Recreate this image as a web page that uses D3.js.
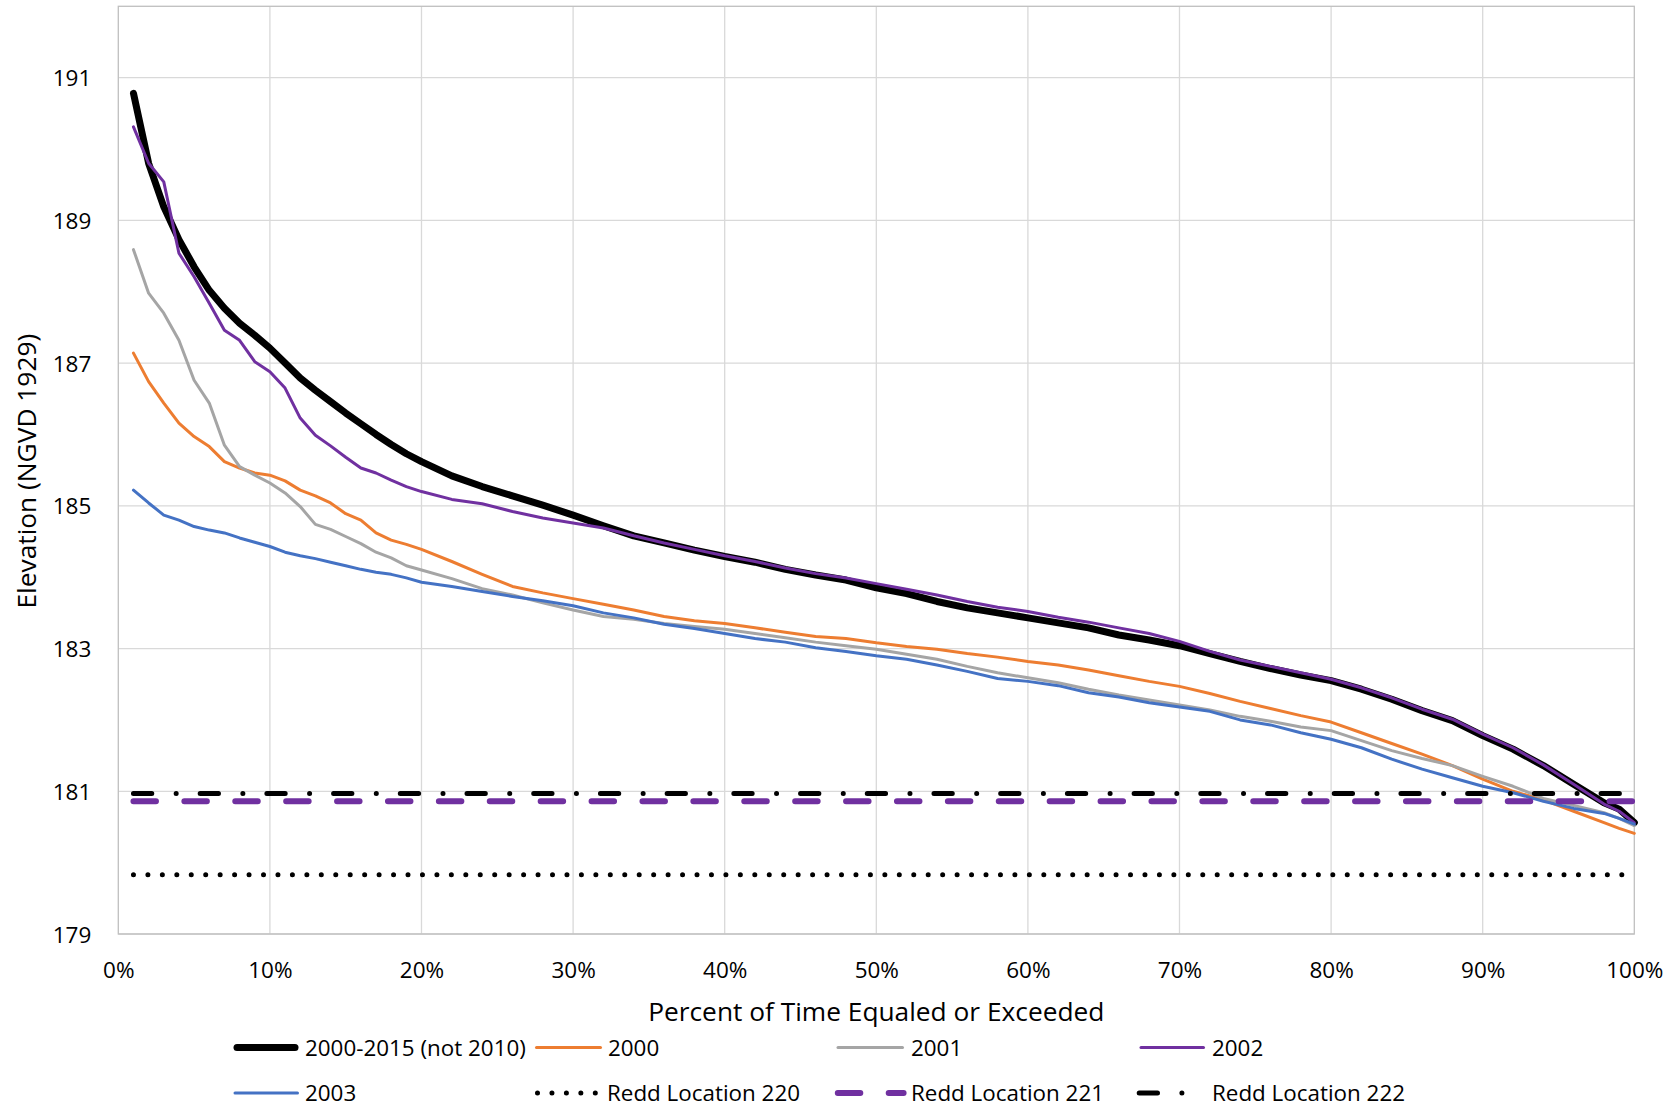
<!DOCTYPE html>
<html>
<head>
<meta charset="utf-8">
<script src="https://cdn.jsdelivr.net/npm/d3@7"></script>
<style>
  html, body { margin: 0; padding: 0; background: #fff; }
  svg { display: block; }
</style>
</head>
<body>
<svg id="chart" width="1680" height="1108"></svg>
<script>
// ---------------- DATA ----------------
const pct = [1,2,3,4,5,6,7,8,9,10,11,12,13,14,15,16,17,18,19,20,
  22,24,26,28,30,32,34,36,38,40,42,44,46,48,50,52,54,56,58,60,
  62,64,66,68,70,72,74,76,78,80,82,84,86,88,90,92,94,96,98,99,100];

const allYears = [190.78,189.80,189.19,188.73,188.35,188.02,187.77,187.56,187.39,187.21,
  187.00,186.79,186.62,186.46,186.30,186.15,186.00,185.86,185.73,185.62,
  185.42,185.27,185.14,185.01,184.87,184.72,184.58,184.48,184.38,184.29,
  184.21,184.11,184.03,183.96,183.85,183.77,183.66,183.57,183.50,183.43,
  183.36,183.29,183.19,183.12,183.04,182.93,182.82,182.72,182.63,182.55,
  182.43,182.29,182.13,181.99,181.78,181.59,181.36,181.10,180.84,180.75,180.56];

const y2000 = [187.14,186.74,186.44,186.16,185.97,185.83,185.62,185.53,185.46,185.43,
  185.35,185.22,185.14,185.04,184.89,184.80,184.62,184.52,184.46,184.39,
  184.22,184.04,183.87,183.78,183.70,183.62,183.54,183.45,183.39,183.35,
  183.29,183.23,183.17,183.14,183.08,183.03,182.99,182.93,182.88,182.82,
  182.77,182.70,182.62,182.54,182.47,182.37,182.26,182.16,182.06,181.97,
  181.82,181.67,181.52,181.36,181.17,181.00,180.88,180.72,180.56,180.48,180.41];

const y2001 = [188.59,187.98,187.70,187.32,186.76,186.44,185.85,185.55,185.43,185.32,
  185.18,184.99,184.74,184.67,184.57,184.47,184.35,184.27,184.16,184.10,
  183.98,183.84,183.75,183.64,183.54,183.45,183.41,183.35,183.31,183.27,
  183.21,183.15,183.09,183.04,182.99,182.92,182.85,182.75,182.66,182.59,
  182.52,182.43,182.35,182.28,182.21,182.14,182.05,181.98,181.90,181.85,
  181.71,181.57,181.46,181.36,181.21,181.07,180.90,180.80,180.70,180.62,180.52];

const y2002 = [190.31,189.80,189.54,188.54,188.21,187.84,187.46,187.32,187.02,186.88,
  186.65,186.23,185.99,185.84,185.68,185.53,185.46,185.36,185.27,185.20,
  185.09,185.03,184.92,184.83,184.76,184.69,184.58,184.48,184.39,184.30,
  184.22,184.13,184.05,183.99,183.91,183.83,183.75,183.66,183.58,183.52,
  183.44,183.37,183.29,183.21,183.10,182.96,182.84,182.75,182.66,182.57,
  182.45,182.31,182.15,182.01,181.80,181.61,181.37,181.10,180.82,180.72,180.56];

const y2003 = [185.22,185.04,184.87,184.80,184.71,184.66,184.62,184.55,184.49,184.43,
  184.35,184.30,184.26,184.21,184.16,184.11,184.07,184.04,183.99,183.93,
  183.87,183.80,183.73,183.67,183.60,183.50,183.43,183.34,183.28,183.21,
  183.14,183.09,183.01,182.96,182.90,182.85,182.77,182.68,182.58,182.54,
  182.48,182.38,182.32,182.24,182.18,182.12,182.00,181.93,181.82,181.73,
  181.61,181.45,181.31,181.19,181.07,180.98,180.86,180.76,180.69,180.62,180.54];

const reddPct = [1, 100];
const redd220 = [179.83, 179.83];
const redd221 = [180.86, 180.86];
const redd222 = [180.97, 180.97];

const xTicks = [0,10,20,30,40,50,60,70,80,90,100];
const yTicks = [179,181,183,185,187,189,191];
const seriesNames = ["2000-2015 (not 2010)","2000","2001","2002","2003",
  "Redd Location 220","Redd Location 221","Redd Location 222"];
const xTitle = "Percent of Time Equaled or Exceeded";
const yTitle = "Elevation (NGVD 1929)";

// ---------------- STYLES ----------------
const styles = [
  {color:"#000000", width:7, dash:null},
  {color:"#ED7D31", width:3, dash:null},
  {color:"#A5A5A5", width:3, dash:null},
  {color:"#7030A0", width:3, dash:null},
  {color:"#4472C4", width:3, dash:null},
  {color:"#000000", width:5, dash:"0,14.45"},
  {color:"#7030A0", width:6, dash:"22.5,28.4"},
  {color:"#000000", width:5, dash:"18.3,24.4,0.01,24"}
];

// ---------------- LAYOUT ----------------
const svg = d3.select("#chart");
const plot = {left:118.3, right:1634.3, top:6.3, bottom:934};

const x = d3.scaleLinear().domain([0,100]).range([plot.left, plot.right]);
const y = d3.scaleLinear().domain([179,192]).range([plot.bottom, plot.top]);

const font = "'Open Sans', 'DejaVu Sans', sans-serif";

// Gridlines
const grid = svg.append("g");
grid.selectAll("line.h").data(yTicks).enter().append("line")
  .attr("x1", plot.left).attr("x2", plot.right)
  .attr("y1", d => y(d)).attr("y2", d => y(d))
  .attr("stroke", "#D9D9D9").attr("stroke-width", 1.3);
grid.selectAll("line.v").data(xTicks.slice(1,-1)).enter().append("line")
  .attr("y1", plot.top).attr("y2", plot.bottom)
  .attr("x1", d => x(d)).attr("x2", d => x(d))
  .attr("stroke", "#D9D9D9").attr("stroke-width", 1.3);

// Plot border
svg.append("rect")
  .attr("x", plot.left).attr("y", plot.top)
  .attr("width", plot.right - plot.left).attr("height", plot.bottom - plot.top)
  .attr("fill", "none").attr("stroke", "#BFBFBF").attr("stroke-width", 1.3);

// Axes (labels only)
const yAxis = d3.axisLeft(y).tickValues(yTicks).tickSize(0).tickPadding(0).tickFormat(d3.format("d"));
const gy = svg.append("g").attr("transform", `translate(${plot.left - 27},0)`).call(yAxis);
gy.select(".domain").remove();
gy.selectAll("text").attr("font-family", font).attr("font-size", 22.5).attr("fill", "#000")
  .attr("dy", "0.36em");

const xAxis = d3.axisBottom(x).tickValues(xTicks).tickSize(0).tickPadding(0).tickFormat(d => d + "%");
const gx = svg.append("g").attr("transform", `translate(0,${plot.bottom + 28})`).call(xAxis);
gx.select(".domain").remove();
gx.selectAll("text").attr("font-family", font).attr("font-size", 22.5).attr("fill", "#000")
  .attr("dy", "0.72em");

// Titles
svg.append("text").attr("x", (plot.left + plot.right) / 2).attr("y", 1021)
  .attr("text-anchor", "middle").attr("font-family", font).attr("font-size", 26.3)
  .attr("fill", "#000").text(xTitle);
svg.append("text").attr("transform", `translate(35.5,${(plot.top + plot.bottom) / 2 + 1}) rotate(-90)`)
  .attr("text-anchor", "middle").attr("font-family", font).attr("font-size", 26.3)
  .attr("fill", "#000").text(yTitle);

// Series
const dataSeries = [
  pct.map((p,i) => [p, allYears[i]]),
  pct.map((p,i) => [p, y2000[i]]),
  pct.map((p,i) => [p, y2001[i]]),
  pct.map((p,i) => [p, y2002[i]]),
  pct.map((p,i) => [p, y2003[i]]),
  reddPct.map((p,i) => [p, redd220[i]]),
  reddPct.map((p,i) => [p, redd221[i]]),
  reddPct.map((p,i) => [p, redd222[i]])
];
const line = d3.line().x(d => x(d[0])).y(d => y(d[1]));
const gs = svg.append("g");
dataSeries.forEach((s, i) => {
  const st = styles[i];
  const p = gs.append("path").datum(s).attr("d", line)
    .attr("fill", "none").attr("stroke", st.color).attr("stroke-width", st.width)
    .attr("stroke-linecap", "round").attr("stroke-linejoin", "round");
  if (st.dash) p.attr("stroke-dasharray", st.dash);
});

// Legend
const legendItems = [
  {i:0, x1:237, x2:295, tx:305, ly:1047.5},
  {i:1, x1:536.5, x2:600.5, tx:608, ly:1047.5},
  {i:2, x1:838, x2:902.5, tx:911, ly:1047.5},
  {i:3, x1:1141, x2:1203.5, tx:1212, ly:1047.5},
  {i:4, x1:235, x2:297.5, tx:305, ly:1093},
  {i:5, x1:537.5, x2:596, tx:607, ly:1093},
  {i:6, x1:837.8, x2:903.6, tx:911, ly:1093},
  {i:7, x1:1139.2, x2:1183.5, tx:1212, ly:1093}
];
const lg = svg.append("g");
legendItems.forEach(it => {
  const st = styles[it.i];
  const l = lg.append("line").attr("x1", it.x1).attr("x2", it.x2)
    .attr("y1", it.ly).attr("y2", it.ly)
    .attr("stroke", st.color).attr("stroke-width", st.width).attr("stroke-linecap", "round");
  if (st.dash) l.attr("stroke-dasharray", st.dash);
  lg.append("text").attr("x", it.tx).attr("y", it.ly).attr("dy", "0.36em")
    .attr("font-family", font).attr("font-size", 22.4).attr("fill", "#000")
    .text(seriesNames[it.i]);
});
</script>
</body>
</html>
